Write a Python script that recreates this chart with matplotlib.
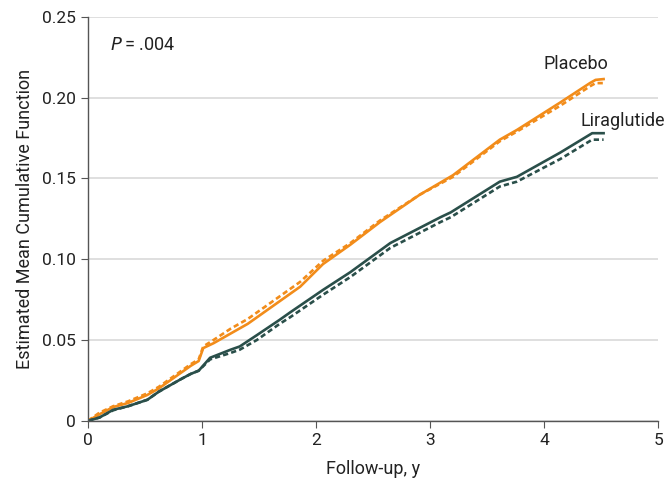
import matplotlib
matplotlib.use("Agg")
import matplotlib.pyplot as plt
from matplotlib import font_manager

# pick a narrow font if one is there
names = {f.name for f in font_manager.fontManager.ttflist}
family = ['Liberation Sans Narrow'] if 'Liberation Sans Narrow' in names else ['Roboto', 'DejaVu Sans']
plt.rcParams['font.family'] = family + ['DejaVu Sans']

# Placebo, solid
plac_x = [0, 0.1, 0.22, 0.35, 0.52, 0.62, 0.72, 0.82, 0.9, 0.97, 1.01, 1.1, 1.25, 1.4,
          1.62, 1.86, 2.06, 2.3, 2.56, 2.91, 3.2, 3.61, 3.76, 4.14, 4.4, 4.45, 4.52]
plac_y = [0, 0.004, 0.0085, 0.011, 0.016, 0.02, 0.025, 0.03, 0.034, 0.037, 0.045, 0.048,
          0.054, 0.06, 0.071, 0.083, 0.097, 0.109, 0.123, 0.14, 0.152, 0.174, 0.18,
          0.197, 0.209, 0.211, 0.2115]
# Placebo, dashed
plac_x2 = [0, 0.1, 0.22, 0.35, 0.52, 0.62, 0.72, 0.82, 0.9, 0.97, 1.01, 1.1, 1.25, 1.4,
           1.62, 1.86, 2.06, 2.3, 2.56, 2.91, 3.2, 3.61, 3.76, 4.14, 4.4, 4.45, 4.52]
plac_y2 = [0, 0.005, 0.009, 0.012, 0.017, 0.021, 0.026, 0.031, 0.035, 0.038, 0.046, 0.05,
           0.057, 0.063, 0.074, 0.086, 0.099, 0.11, 0.124, 0.14, 0.151, 0.173, 0.179,
           0.195, 0.207, 0.209, 0.209]

# Liraglutide, solid
lira_x = [0, 0.1, 0.22, 0.35, 0.52, 0.62, 0.72, 0.82, 0.9, 0.97, 1.07, 1.25, 1.33, 1.48,
          1.68, 1.77, 2.06, 2.3, 2.65, 3.09, 3.18, 3.61, 3.76, 4.14, 4.35, 4.42, 4.52]
lira_y = [0, 0.002, 0.0068, 0.009, 0.013, 0.018, 0.022, 0.026, 0.029, 0.031, 0.039, 0.044,
          0.046, 0.053, 0.0625, 0.067, 0.081, 0.092, 0.11, 0.126, 0.129, 0.148, 0.151,
          0.166, 0.175, 0.178, 0.178]
# Liraglutide, dashed
lira_x2 = [0, 0.1, 0.22, 0.35, 0.52, 0.62, 0.72, 0.82, 0.9, 0.97, 1.07, 1.25, 1.33, 1.48,
           1.68, 1.77, 2.06, 2.3, 2.65, 3.09, 3.18, 3.61, 3.76, 4.14, 4.35, 4.42, 4.52]
lira_y2 = [0, 0.002, 0.0065, 0.009, 0.013, 0.018, 0.022, 0.026, 0.029, 0.031, 0.038, 0.042,
           0.044, 0.05, 0.06, 0.064, 0.078, 0.089, 0.107, 0.123, 0.126, 0.145, 0.148,
           0.162, 0.171, 0.174, 0.174]

orange = '#F28C1A'
teal = '#2A4F4A'

fig = plt.figure(figsize=(6.67, 4.82), dpi=100)
ax = fig.add_axes([0.132, 0.127, 0.855, 0.838])

ax.plot(plac_x2, plac_y2, color=orange, lw=1.9, ls=(0, (2, 1.2)))
ax.plot(plac_x, plac_y, color=orange, lw=1.9)
ax.plot(lira_x2, lira_y2, color=teal, lw=1.9, ls=(0, (2, 1.2)))
ax.plot(lira_x, lira_y, color=teal, lw=1.9)

ax.set_xlim(0, 5)
ax.set_ylim(0, 0.25)
ax.set_xticks([0, 1, 2, 3, 4, 5])
ax.set_yticks([0, 0.05, 0.10, 0.15, 0.20, 0.25])
ax.set_yticklabels(['0', '0.05', '0.10', '0.15', '0.20', '0.25'])
ax.yaxis.grid(True, color='#d9d9d9', lw=1.2)
ax.set_axisbelow(True)
for s in ['top', 'right']:
    ax.spines[s].set_visible(False)
for s in ['left', 'bottom']:
    ax.spines[s].set_color('#555555')
    ax.spines[s].set_linewidth(1.0)
ax.tick_params(direction='out', length=5, color='#555555', labelsize=12.5, colors='#222222')

ax.set_xlabel('Follow-up, y', fontsize=13, labelpad=9, color='#222222')
ax.set_ylabel('Estimated Mean Cumulative Function', fontsize=13, labelpad=6, color='#222222')

ax.text(0.19, 0.2325, r'$\it{P}$' + '\u2009= .004', fontsize=13, va='center', color='#222222')
ax.text(3.99, 0.2175, 'Placebo', fontsize=13, va='baseline', color='#222222')
ax.text(5.06, 0.1825, 'Liraglutide', fontsize=13, va='baseline', ha='right', color='#222222')

fig.savefig('out.png', dpi=100)
